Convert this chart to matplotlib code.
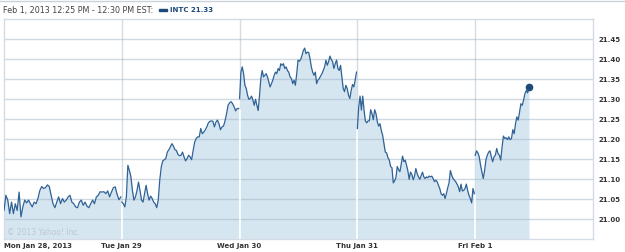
import numpy as np
import matplotlib
matplotlib.use("Agg")
import matplotlib.pyplot as plt

# INTC prijs per dag (5-min bars)
mon = [21.022, 21.060, 21.048, 21.014, 21.043, 21.014, 21.039, 21.022, 21.068, 21.006,
       21.031, 21.048, 21.041, 21.048, 21.039, 21.031, 21.043, 21.039, 21.052, 21.072,
       21.082, 21.077, 21.079, 21.086, 21.082, 21.060, 21.039, 21.029, 21.043, 21.056,
       21.039, 21.052, 21.043, 21.048, 21.056, 21.060, 21.043, 21.039, 21.031, 21.029,
       21.043, 21.048, 21.035, 21.043, 21.033, 21.029, 21.039, 21.048, 21.039, 21.056,
       21.060, 21.069, 21.068, 21.069, 21.064, 21.071, 21.056, 21.068, 21.079, 21.081,
       21.062, 21.049, 21.056]
tue = [21.043, 21.039, 21.031, 21.056, 21.135, 21.122, 21.106, 21.072, 21.048, 21.056,
       21.072, 21.093, 21.072, 21.048, 21.043, 21.064, 21.085, 21.064, 21.048, 21.058,
       21.052, 21.043, 21.039, 21.029, 21.048, 21.098, 21.131, 21.146, 21.149, 21.152,
       21.168, 21.174, 21.181, 21.189, 21.183, 21.174, 21.172, 21.162, 21.159, 21.160,
       21.168, 21.156, 21.146, 21.152, 21.160, 21.156, 21.149, 21.172, 21.193, 21.202,
       21.206, 21.206, 21.227, 21.214, 21.218, 21.224, 21.231, 21.241, 21.245, 21.246,
       21.245, 21.231, 21.243, 21.248, 21.239, 21.224, 21.231, 21.233, 21.246, 21.264,
       21.285, 21.291, 21.294, 21.289, 21.281, 21.271, 21.277, 21.277]
wed = [21.302, 21.368, 21.381, 21.364, 21.335, 21.327, 21.310, 21.300, 21.302, 21.308,
       21.298, 21.285, 21.300, 21.285, 21.272, 21.310, 21.352, 21.372, 21.356, 21.360,
       21.364, 21.356, 21.343, 21.331, 21.339, 21.348, 21.360, 21.368, 21.364, 21.377,
       21.372, 21.389, 21.385, 21.389, 21.377, 21.381, 21.372, 21.368, 21.356, 21.352,
       21.339, 21.348, 21.335, 21.364, 21.398, 21.395, 21.400, 21.410, 21.422, 21.428,
       21.414, 21.418, 21.417, 21.402, 21.381, 21.368, 21.360, 21.368, 21.339, 21.348,
       21.352, 21.358, 21.364, 21.372, 21.381, 21.398, 21.385, 21.394, 21.408, 21.400,
       21.394, 21.377, 21.389, 21.398, 21.377, 21.372, 21.385, 21.356, 21.327, 21.319,
       21.335, 21.327, 21.310, 21.302, 21.322, 21.337, 21.331, 21.348, 21.368]
thu = [21.227, 21.281, 21.308, 21.273, 21.308, 21.273, 21.246, 21.241, 21.246, 21.246,
       21.274, 21.264, 21.249, 21.274, 21.264, 21.244, 21.233, 21.239, 21.222, 21.210,
       21.189, 21.168, 21.166, 21.154, 21.148, 21.132, 21.129, 21.091, 21.096, 21.104,
       21.132, 21.124, 21.119, 21.138, 21.158, 21.144, 21.148, 21.135, 21.121, 21.100,
       21.118, 21.112, 21.099, 21.108, 21.127, 21.114, 21.106, 21.100, 21.109, 21.118,
       21.106, 21.102, 21.106, 21.104, 21.108, 21.106, 21.108, 21.102, 21.094, 21.098,
       21.094, 21.085, 21.077, 21.064, 21.060, 21.064, 21.052, 21.064, 21.079, 21.091,
       21.122, 21.110, 21.102, 21.098, 21.094, 21.088, 21.081, 21.069, 21.088, 21.071,
       21.072, 21.077, 21.088, 21.072, 21.060, 21.052, 21.041, 21.077, 21.064]
fri = [21.160, 21.171, 21.166, 21.156, 21.135, 21.118, 21.102, 21.122, 21.149, 21.160,
       21.168, 21.171, 21.156, 21.144, 21.156, 21.160, 21.177, 21.164, 21.160, 21.148,
       21.181, 21.208, 21.202, 21.204, 21.199, 21.206, 21.199, 21.202, 21.224, 21.214,
       21.239, 21.256, 21.248, 21.268, 21.289, 21.285, 21.298, 21.314, 21.322, 21.316,
       21.330]

days = [mon, tue, wed, thu, fri]
session_end = [387, 387, 387, 387, 178]   # minuten na 9:30
day_labels = ["Mon Jan 28, 2013", "Tue Jan 29", "Wed Jan 30", "Thu Jan 31", "Fri Feb 1"]
y_ticks = [21.00, 21.05, 21.10, 21.15, 21.20, 21.25, 21.30, 21.35, 21.40, 21.45]
y_lo, y_hi = 20.95, 21.50

line_c = "#2f6296"
fill_c = "#d6e6f1"
grid_c = "#d3dce4"
text_c = "#333333"

fig = plt.figure(figsize=(6.25, 2.52), dpi=100)
ax = fig.add_axes([0.0064, 0.0504, 0.9424, 0.873])

for d, prices in enumerate(days):
    t = d + np.linspace(0, session_end[d], len(prices)) / 390
    ax.fill_between(t, prices, y_lo, color=fill_c, lw=0, zorder=1)
    ax.plot(t, prices, color=line_c, lw=0.9, zorder=4)
    if d > 0:
        top = min(days[d - 1][-1], prices[0])
        ax.vlines(d, y_lo, top, color="white", lw=1.2, zorder=3)

# eindpunt
ax.plot(4 + session_end[4] / 390, fri[-1], "o", color="#1d4a7a", ms=4.5, zorder=5)

for v in y_ticks:
    ax.axhline(v, color="#9fb4c7", alpha=0.5, lw=1, zorder=2)
for d in range(1, 5):
    ax.axvline(d, color=grid_c, lw=1, zorder=0)

ax.set_xlim(0, 5)
ax.set_ylim(y_lo, y_hi)
for s in ax.spines.values():
    s.set_color(grid_c)
    s.set_linewidth(1)

ax.yaxis.tick_right()
ax.set_yticks(y_ticks)
ax.set_yticklabels(["%.2f" % v for v in y_ticks])
ax.set_xticks(range(5))
ax.set_xticklabels(day_labels)
ax.tick_params(length=0, labelsize=5, colors=text_c)
ax.tick_params(axis="y", pad=4)
ax.tick_params(axis="x", pad=3)
for lab in ax.get_xticklabels() + ax.get_yticklabels():
    lab.set_fontweight("bold")
ax.get_xticklabels()[0].set_ha("left")

ax.text(0.005, 0.02, "\u00a9 2013 Yahoo! Inc.", transform=ax.transAxes,
        fontsize=5.5, color="#bcc8d2", zorder=6)

# kopregel
fig.text(3 / 625, 1 - 10 / 252, "Feb 1, 2013 12:25 PM - 12:30 PM EST:",
         fontsize=5.75, color="#444444", va="center")
fig.patches.append(plt.Rectangle((159 / 625, 1 - 11 / 252), 8 / 625, 2.5 / 252,
                                 transform=fig.transFigure, color="#1d4a7a"))
fig.text(170 / 625, 1 - 10 / 252, "INTC 21.33", fontsize=5, color="#1d4a7a",
         fontweight="bold", va="center")
fig.add_artist(plt.Line2D([0, 1], [1 - 0.8 / 252, 1 - 0.8 / 252], color="#c9d2da", lw=1))

fig.savefig("out.png", dpi=100)
